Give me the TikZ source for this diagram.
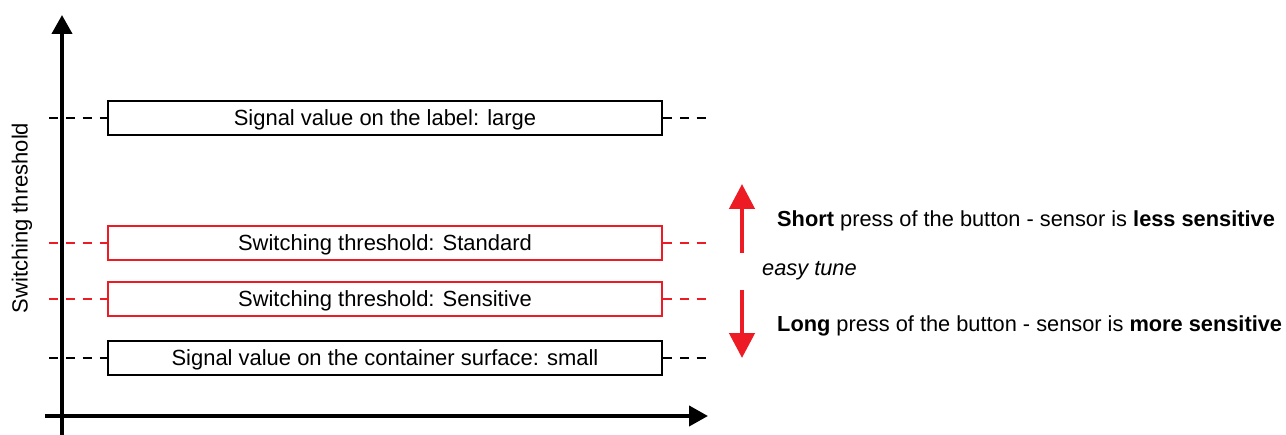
\documentclass[tikz,border=0pt]{standalone}
\usepackage{fontspec}
\setmainfont{Liberation Sans}
\usetikzlibrary{arrows.meta,positioning}
\definecolor{tunered}{RGB}{237,28,36}

\begin{document}
\begin{tikzpicture}[x=0.02cm,y=-0.02cm,font=\fontsize{12.5}{14}\selectfont,
    axis/.style={line width=2.3pt,-{Triangle[length=0.38cm,width=0.4cm]}},
    level node/.style={draw,line width=1.1pt,minimum width=11.08cm,minimum height=0.68cm,inner sep=0pt,text depth=0pt},
    thr node/.style={level node,draw=tunered},
    guide/.style={line width=1.1pt,dash pattern=on 5.1pt off 4.5pt},
    tune arrow/.style={tunered,line width=2.6pt,-{Triangle[length=0.5cm,width=0.5cm]}},
    press/.style={anchor=west,font=\fontsize{12.4}{14}\selectfont}]

    \useasboundingbox (0,0) rectangle (1286,435);

    % axes
    \coordinate (yfoot) at (62,435);
    \coordinate (ytip) at (62,15);
    \coordinate (xfoot) at (45,416);
    \coordinate (xtip) at (708,416);
    \draw[axis] (yfoot) -- (ytip);
    \draw[axis] (xfoot) -- (xtip);
    \node[rotate=90] (ylabel) at (22,218) {Switching threshold};

    % levels
    \node[level node] (large) at (385,118) {Signal value on the label: large};
    \node[thr node] (standard) at (385,243) {Switching threshold: Standard};
    \node[thr node] (sensitive) at (385,299) {Switching threshold: Sensitive};
    \node[level node] (small) at (385,358) {Signal value on the container surface: small};

    \foreach \lvl/\col in {large/black,standard/tunered,sensitive/tunered,small/black}{
        \coordinate (\lvl l) at (49,0 |- \lvl.west);
        \coordinate (\lvl r) at (708,0 |- \lvl.east);
        \draw[guide,\col] (\lvl l) -- (\lvl.west);
        \draw[guide,\col] (\lvl.east) -- (\lvl r);
    }

    % easy tune
    \node[press,font=\fontsize{12.4}{14}\selectfont\itshape] (easy) at (756,271) {easy tune};
    \node[press] (short) at (771,221) {\textbf{Short} press of the button - sensor is \textbf{less sensitive}};
    \node[press] (long) at (771,326) {\textbf{Long} press of the button - sensor is \textbf{more sensitive}};

    \coordinate (upfoot) at (742,253);
    \coordinate (uptip) at (742,184);
    \coordinate (downfoot) at (742,290);
    \coordinate (downtip) at (742,358);
    \draw[tune arrow] (upfoot) -- (uptip);
    \draw[tune arrow] (downfoot) -- (downtip);
\end{tikzpicture}
\end{document}
